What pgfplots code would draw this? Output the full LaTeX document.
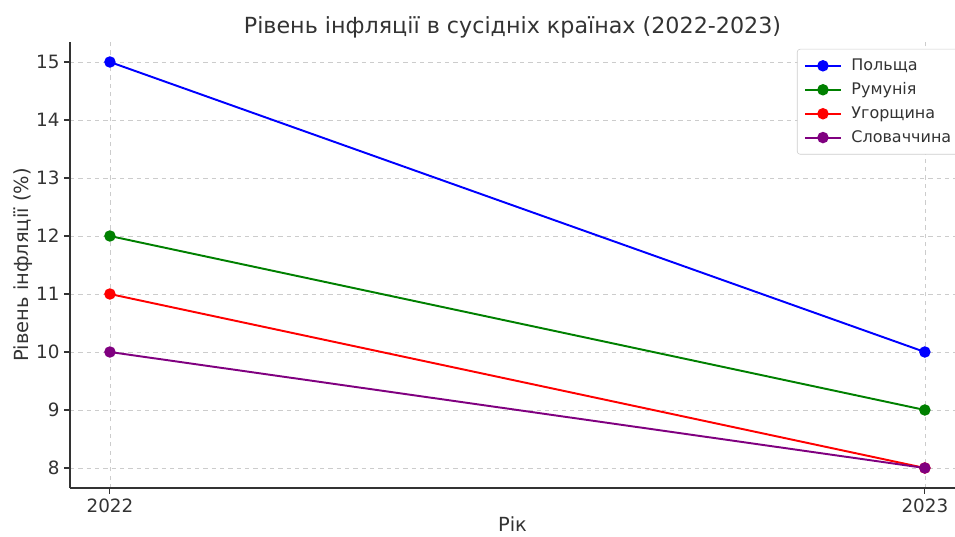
\documentclass[border=0pt]{standalone}
\usepackage{pgfplots}
\pgfplotsset{compat=1.18}
\usepackage{fontspec}
\setmainfont{DejaVu Sans}
\definecolor{txt}{HTML}{333333}
\definecolor{gridc}{HTML}{CCCCCC}
\definecolor{mpurple}{HTML}{800080}
\definecolor{mgreen}{HTML}{008000}
\begin{document}
\begin{tikzpicture}[x=0.72pt,y=0.72pt]
\useasboundingbox (0,0) rectangle (955,536);
\begin{axis}[
  at={(70*0.72pt,48*0.72pt)}, anchor=south west,
  scale only axis, width=885*0.72pt, height=446*0.72pt,
  xmin=2021.951, xmax=2023.037,
  ymin=7.655, ymax=15.345,
  axis lines*=left,
  axis line style={txt, line width=0.9pt},
  xtick={2022,2023}, xticklabels={2022,2023},
  ytick={8,9,10,11,12,13,14,15},
  tick style={txt, line width=0.8pt},
  tick align=outside, major tick length=4pt,
  ticklabel style={font=\fontsize{13.2}{15}\selectfont, text=txt},
  /pgf/number format/assume math mode=true,
  grid=major, grid style={gridc, dashed, line width=0.5pt},
  title={Рівень інфляції в сусідніх країнах (2022-2023)},
  title style={font=\fontsize{16}{18}\selectfont, text=txt, yshift=-6.5pt},
  xlabel={Рік}, ylabel={Рівень інфляції (\%)},
  label style={font=\fontsize{14}{16}\selectfont, text=txt},
  xlabel style={yshift=4pt},
  ylabel style={yshift=-4pt},
  clip=false,
  legend style={at={(1,1)}, anchor=north east, xshift=4.5pt, yshift=-5pt,
    font=\fontsize{11.5}{13}\selectfont, text=txt, draw=gridc, rounded corners=2pt,
    row sep=3.2pt, inner sep=5pt, column sep=5pt},
  legend cell align=left,
  legend image code/.code={\draw[mark repeat=2,mark phase=2] plot coordinates {(0cm,0cm) (0.45cm,0cm) (0.9cm,0cm)};},
  every axis plot/.append style={line width=1.4pt, mark=*, mark size=3.4pt},
]
\addplot[blue, mark options={fill=blue}] coordinates {(2022,15) (2023,10)};
\addlegendentry{Польща}
\addplot[mgreen, mark options={fill=mgreen}] coordinates {(2022,12) (2023,9)};
\addlegendentry{Румунія}
\addplot[red, mark options={fill=red}] coordinates {(2022,11) (2023,8)};
\addlegendentry{Угорщина}
\addplot[mpurple, mark options={fill=mpurple}] coordinates {(2022,10) (2023,8)};
\addlegendentry{Словаччина}
\end{axis}
\end{tikzpicture}
\end{document}
